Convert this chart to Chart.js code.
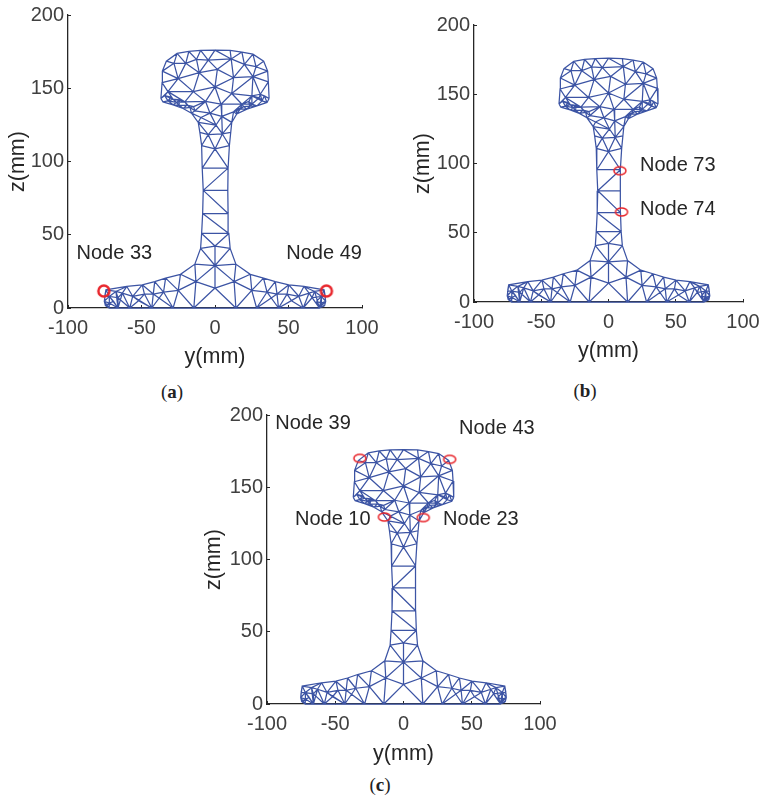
<!DOCTYPE html>
<html>
<head>
<meta charset="utf-8">
<title>Rail section mesh</title>
<script src="https://cdn.jsdelivr.net/npm/chart.js@4/dist/chart.umd.min.js"></script>
<style>
  html, body { margin: 0; padding: 0; background: #fff; }
  body { position: relative; width: 761px; height: 795px; overflow: hidden; }
  canvas { position: absolute; }
  .caption { position: absolute; transform: translate(-50%, -50%); font: 19px "Liberation Serif", serif; color: #222; }
</style>
</head>
<body>
<canvas id="panelA"></canvas>
<canvas id="panelB"></canvas>
<canvas id="panelC"></canvas>
<div class="caption" style="left:172px;top:392px">(<b>a</b>)</div>
<div class="caption" style="left:585px;top:391px">(<b>b</b>)</div>
<div class="caption" style="left:380px;top:785px">(<b>c</b>)</div>
<script>
const yTicks = [-100, -50, 0, 50, 100];
const zTicks = [0, 50, 100, 150, 200];

// mesh nodes, y and z in mm
const meshY = [
  -36.8, -36, -35.8, -33.1, -25.8, -17.8, -9.8, 0, 10.3, 18.3, 25.8, 33.1, 35.8, 36.3, 36.8,
  -27.9, -19.9, -12.6, -4.6, 11, 20, 27.9, -10.7, 1.6, 12.6, 25.8, -25.1, -14.8, 0, 11.4, -32, 25.1,
  -20.5, -6.4, 4.1, -28.5, 18.3, 30.8,
  -35.4, -28.5, -21.7, -16, -11.4, -10.3, -9.1, -8.7,
  35.4, 28.5, 21.7, 14.8, 11.4, 10.7, 9.8, 8.9,
  -3.4, 4.6, -9.6, 0.7, -4.6, 5, 0,
  -34.2, -32, -26.2, -17, -13.7, 33.6, 32, 25.1, 17.1, 12.6,
  -8, 8.7, -8.4, 8.9, -9.1, 9.4, -9.8, 10.3, 0, -13.7, 0, 14.2, -23.5, -13, 0, 13, 24,
  -33.6, -41, -49.5, -60, -74.2, -75.3,
  33, 41, 50.2, 60.5, 74.2, 75.3,
  -25, -35, -42, -48, -56, -63, -67.4, -71.9, -71.9,
  25, 35.4, 42.2, 49, 57, 64, 67.8, 72.4, 72.4,
  -72, -66, -58, -43, -28.5, -14.4, 14.2, 28.3, 43.2, 60, 71,
  -30, -24, -24.5, -19, -14.5,
  30, 23, 23.5, 19.5, 14.5,
  -75, -69, -74.5, 75, 69, 74.5, -66, 66, -52, 52
];
const meshZ = [
  143, 153.8, 161.7, 168.5, 173.8, 175.1, 175.8, 176, 175.8, 174.7, 173.3, 168.5, 161.7, 154.3, 143,
  167, 167, 169.7, 169.2, 170, 166.3, 164.7, 160.6, 162.9, 157.2, 157.9, 156.6, 147.7, 150.9, 146.4, 147.7, 144.8,
  140.7, 141, 139.1, 142.5, 139.1, 145.9,
  140.7, 138.7, 136.2, 133, 126.7, 119.9, 110.9, 95.5,
  140.3, 138, 135.7, 132.4, 126.7, 119.9, 110.9, 95.5,
  133, 130.8, 130, 124.9, 118.3, 118.8, 108.6,
  145, 141.4, 140.3, 136.9, 134.6, 144.8, 141.4, 139.1, 135.7, 133.9,
  80.3, 80.3, 64.5, 64.5, 50.9, 50.9, 40.7, 40.7, 42.3, 29.9, 29, 29.9, 23, 18, 13.6, 18, 23,
  20.4, 18, 15.8, 14.7, 12.4, 4.5,
  20.4, 18, 15.8, 14.7, 12.4, 4.5,
  12, 10.9, 9.5, 9.5, 8, 10.2, 11.3, 7.9, 3.4,
  12, 10.9, 9.5, 9.5, 8, 10.2, 11.3, 7.9, 3.4,
  0, 0, 0, 0, 0, 0, 0, 0, 0, 0, 0,
  144, 142, 138.3, 138.5, 137.5,
  143.5, 141, 137.8, 137.5, 135.2,
  8, 4.5, 1.5, 8, 4.5, 1.5, 7, 7, 5, 5
];
// polylines through the nodes: outline first, then the inner element edges as pairs
const meshOutlines = [
  [0, 1, 2, 3, 4, 5, 6, 7, 8, 9, 10, 11, 12, 13, 14],
  [0, 38, 39, 40, 41, 42, 43, 44, 45, 71, 73, 75, 77, 80, 83, 88, 89, 90, 91, 92, 93, 118, 119, 120, 121, 122, 123, 124, 125, 126, 127, 128, 99, 98, 97, 96, 95, 94, 87, 82, 78, 76, 74, 72, 53, 52, 51, 50, 49, 48, 47, 46, 14]
];
const meshEdges = [
  [3,15],[15,26],[2,15],[2,26],[1,26],[1,30],[26,30],[26,16],[16,22],[17,22],[18,22],[22,23],[18,23],[19,23],
  [23,24],[19,24],[20,24],[20,25],[21,25],[12,21],[11,21],[12,25],[13,25],[24,25],[26,22],[26,27],[22,27],[22,28],
  [23,28],[24,28],[24,29],[28,29],[28,27],[25,29],[25,31],[13,37],[25,37],[29,31],[30,27],[27,32],[30,32],[27,33],
  [28,33],[28,34],[33,34],[29,34],[29,36],[31,36],[34,36],[32,33],[30,35],[30,0],
  [4,15],[4,16],[5,16],[5,17],[6,17],[6,18],[7,18],[7,19],[8,19],[9,19],[9,20],[10,20],[10,21],
  [15,16],[16,17],[17,18],[18,19],[19,20],[20,21],
  [0,61],[61,62],[62,38],[30,61],[61,35],[35,62],[62,63],[35,63],[63,39],[62,39],[63,32],[35,32],[32,64],[64,40],[63,40],
  [64,65],[65,41],[64,41],[33,65],[33,54],[65,54],[54,56],[41,56],[42,56],[54,57],[56,57],[42,57],[57,58],[42,58],[43,58],
  [44,58],[58,60],[58,59],[57,59],[57,55],[54,55],[34,55],[34,54],[55,70],[36,70],[36,69],[69,48],[69,49],[70,49],[70,69],
  [55,50],[70,50],[55,59],[50,59],[51,59],[52,59],[59,60],[60,44],[60,52],[60,45],[60,53],[45,53],
  [36,68],[68,48],[68,47],[31,68],[31,67],[67,47],[67,46],[66,46],[66,67],[37,66],[37,67],[37,31],[14,66],[37,14],
  [53,71],[71,72],[71,74],[73,74],[73,76],[75,76],[75,79],[76,79],[77,79],[78,79],[79,81],[77,81],[78,81],[80,81],[81,82],
  [80,84],[83,84],[81,84],[81,85],[81,86],[82,86],[87,86],[84,85],[85,86],
  [84,100],[100,123],[100,122],[100,101],[101,122],[83,100],[88,100],[88,101],[89,101],[89,102],[101,102],[102,122],[102,121],[101,121],
  [102,103],[103,121],[90,103],[90,102],[103,104],[90,104],[104,121],[104,120],[91,104],[91,105],[105,104],[105,120],
  [105,106],[91,106],[106,92],[106,119],[105,119],[106,107],[107,92],[107,119],[107,108],[108,118],[108,93],[107,93],[108,119],
  [84,123],[85,123],[85,124],[86,124],
  [86,109],[87,109],[109,124],[109,125],[109,110],[110,125],[94,109],[94,110],[95,110],[95,111],[110,111],[111,125],[111,126],[110,126],
  [111,112],[112,126],[96,112],[96,111],[112,113],[96,113],[113,126],[113,127],[97,113],[97,114],[114,113],[114,127],
  [114,115],[97,115],[115,98],[115,128],[114,128],[115,116],[116,98],[116,128],[116,117],[117,128],[117,99],[116,99],
  [61,129],[129,35],[129,62],[129,63],[35,130],[130,63],[130,32],[63,131],[131,39],[131,40],[130,131],[32,132],[131,132],[132,64],[132,40],[132,133],[133,64],[133,65],[133,33],
  [37,134],[134,31],[134,67],[134,68],[31,135],[135,68],[135,36],[68,136],[136,47],[136,48],[135,136],[36,137],[136,137],[137,69],[137,48],[137,138],[138,69],[138,70],[138,49],
  [93,139],[92,139],[139,107],[108,140],[107,140],[140,119],[93,141],[141,118],[141,108],
  [99,142],[98,142],[142,116],[117,143],[116,143],[143,128],[99,144],[144,128],[144,117],
  [145,105],[145,106],[145,107],[145,119],[145,120],[146,114],[146,115],[146,116],[146,127],[146,128],
  [147,104],[147,103],[147,120],[147,121],[148,113],[148,112],[148,126],[148,127]
];

// red node markers, mm
const markA = { y: [-75.6, 75.8], z: [11.6, 11.6] };
const markB = { y: [8.5, 9.7], z: [94.8, 65] };
const markC = { y: [-32, 33.8, -14, 14.5], z: [170, 169.3, 129.4, 129] };

const nodeLabelsA = ['Node 33', 'Node 49'];
const nodeLabelsAY = [-94.2, 48.5];
const nodeLabelsAZ = [37, 37];
const nodeLabelsB = ['Node 73', 'Node 74'];
const nodeLabelsBY = [23.4, 23.4];
const nodeLabelsBZ = [98.9, 67];
const nodeLabelsC = ['Node 39', 'Node 43', 'Node 10', 'Node 23'];
const nodeLabelsCY = [-94, 40.7, -79.5, 29];
const nodeLabelsCZ = [193.8, 191, 128, 128];

const FONT = '"Liberation Sans", Arial, sans-serif';
const AXIS_W = 70, AXIS_H = 70, PAD_TOP = 14, PAD_RIGHT = 30;

function meshPoints() {
  const pts = [];
  const addLine = (ids) => {
    ids.forEach((i) => pts.push({ x: meshY[i], y: meshZ[i] }));
    pts.push({ x: null, y: null });
  };
  meshOutlines.forEach(addLine);
  meshEdges.forEach(addLine);
  return pts;
}

function ring(rx, ry, lw) {
  const c = document.createElement('canvas');
  c.width = Math.ceil(rx * 2 + lw + 2);
  c.height = Math.ceil(ry * 2 + lw + 2);
  const ctx = c.getContext('2d');
  ctx.strokeStyle = '#e8262c';
  ctx.lineWidth = lw;
  ctx.beginPath();
  ctx.ellipse(c.width / 2, c.height / 2, rx, ry, 0, 0, Math.PI * 2);
  ctx.stroke();
  return c;
}

const nodeTextPlugin = {
  id: 'nodeText',
  afterDraw(chart, args, opts) {
    const { ctx, scales } = chart;
    ctx.save();
    ctx.font = '20px ' + FONT;
    ctx.fillStyle = '#262626';
    ctx.textAlign = 'left';
    ctx.textBaseline = 'middle';
    opts.labels.forEach((txt, i) => {
      ctx.fillText(txt, scales.x.getPixelForValue(opts.y[i]), scales.y.getPixelForValue(opts.z[i]));
    });
    ctx.restore();
  }
};

function makePanel({ id, left, top, width, height, yTitle, xTitle, mark, labels, labelY, labelZ, marker }) {
  const el = document.getElementById(id);
  const w = AXIS_W + width + PAD_RIGHT;
  const h = PAD_TOP + height + AXIS_H;
  el.width = w;
  el.height = h;
  el.style.left = (left - AXIS_W) + 'px';
  el.style.top = (top - PAD_TOP) + 'px';
  el.style.width = w + 'px';
  el.style.height = h + 'px';

  new Chart(el, {
    type: 'scatter',
    data: {
      datasets: [{
        data: mark.y.map((y, i) => ({ x: y, y: mark.z[i] })),
        pointStyle: marker,
        pointRadius: marker.width / 2,
        clip: false,
        order: 0
      }, {
        data: meshPoints(),
        showLine: true,
        spanGaps: false,
        borderColor: '#3c54a4',
        borderWidth: 1.25,
        pointRadius: 0,
        clip: false,
        order: 1
      }]
    },
    options: {
      responsive: false,
      animation: false,
      layout: { padding: { top: PAD_TOP, right: PAD_RIGHT, left: 0, bottom: 0 } },
      plugins: {
        legend: { display: false },
        tooltip: { enabled: false },
        nodeText: { labels, y: labelY, z: labelZ }
      },
      scales: {
        x: {
          type: 'linear',
          min: -100,
          max: 100,
          afterBuildTicks: (s) => { s.ticks = yTicks.map((value) => ({ value })); },
          afterFit: (s) => { s.height = AXIS_H; s.paddingLeft = 0; s.paddingRight = 0; },
          grid: { drawOnChartArea: false, tickLength: -3, color: '#262626', lineWidth: 1 },
          border: { color: '#262626', width: 1.3 },
          ticks: { maxRotation: 0, autoSkip: false, padding: 11, color: '#404040', font: { family: FONT, size: 20 } },
          title: { display: true, text: 'y(mm)', color: '#262626', padding: xTitle, font: { family: FONT, size: 21.5 } }
        },
        y: {
          min: 0,
          max: 200,
          afterBuildTicks: (s) => { s.ticks = zTicks.map((value) => ({ value })); },
          afterFit: (s) => { s.width = AXIS_W; s.paddingTop = 0; s.paddingBottom = 0; },
          grid: { drawOnChartArea: false, tickLength: -3, color: '#262626', lineWidth: 1 },
          border: { color: '#262626', width: 1.3 },
          ticks: { autoSkip: false, padding: 7, color: '#404040', font: { family: FONT, size: 20 } },
          title: { display: true, text: 'z(mm)', color: '#262626', padding: yTitle, font: { family: FONT, size: 21.5 } }
        }
      }
    },
    plugins: [nodeTextPlugin]
  });
}

makePanel({
  id: 'panelA', left: 68, top: 15, width: 294, height: 293,
  yTitle: { top: 7, bottom: 0 }, xTitle: { top: 8, bottom: 8 },
  mark: markA, marker: ring(5.5, 5.5, 2.5),
  labels: nodeLabelsA, labelY: nodeLabelsAY, labelZ: nodeLabelsAZ
});
makePanel({
  id: 'panelB', left: 474, top: 25, width: 269, height: 277,
  yTitle: { top: 6, bottom: 0 }, xTitle: { top: 8, bottom: 8 },
  mark: markB, marker: ring(6, 4, 1.5),
  labels: nodeLabelsB, labelY: nodeLabelsBY, labelZ: nodeLabelsBZ
});
makePanel({
  id: 'panelC', left: 267, top: 415, width: 273, height: 289,
  yTitle: { top: 4, bottom: 0 }, xTitle: { top: 7, bottom: 7 },
  mark: markC, marker: ring(6, 4, 1.5),
  labels: nodeLabelsC, labelY: nodeLabelsCY, labelZ: nodeLabelsCZ
});
</script>
</body>
</html>
